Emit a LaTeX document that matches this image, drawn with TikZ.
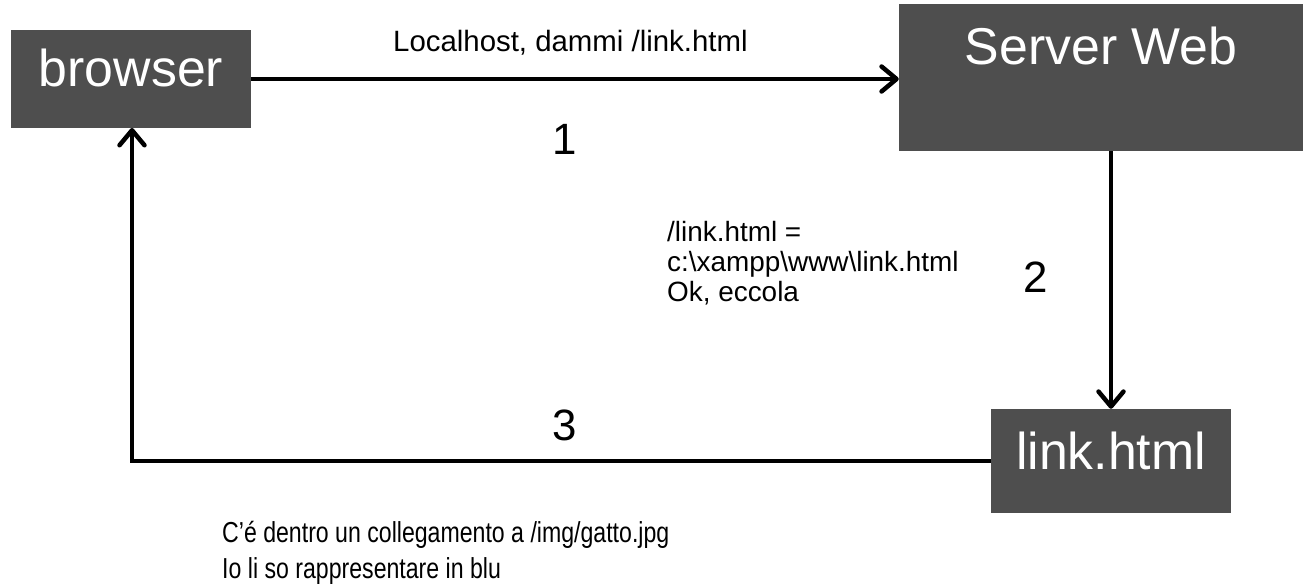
\documentclass[tikz,border=0pt]{standalone}
\usepackage{fontspec}
\setmainfont{Liberation Sans}
\newfontfamily\narrowfont[FakeStretch=0.8]{Liberation Sans}
\usetikzlibrary{arrows.meta}
\definecolor{boxgray}{RGB}{78,78,78}
\tikzset{
  boxnode/.style={fill=boxgray, draw=none, inner sep=0pt},
  boxtext/.style={text=white, inner sep=0pt, font=\fontsize{52}{60}\selectfont},
  lbl/.style={inner sep=0pt, font=\fontsize{28}{30}\selectfont, align=left},
  numlbl/.style={inner sep=0pt, font=\fontsize{44}{48}\selectfont},
  arr/.style={line width=4.5bp, -{Straight Barb[length=15bp, width=25bp, line cap=round, line join=round]}},
}
\begin{document}
\begin{tikzpicture}[x=1bp, y=-1bp]
\useasboundingbox (0,0) rectangle (1303,587);
% boxes
\node[boxnode, minimum width=240bp, minimum height=98bp] (br) at (131,79) {};
\node[boxtext] (brt) at (131,68) {browser};
\node[boxnode, minimum width=404bp, minimum height=147bp] (sw) at (1101,77.5) {};
\node[boxtext] (swt) at (1101,46) {Server Web};
\node[boxnode, minimum width=240bp, minimum height=104bp] (lk) at (1111,461) {};
\node[boxtext] (lkt) at (1111,451) {link.html};
% connectors
\draw[arr] (br.east) -- (sw.west |- br.east);
\draw[arr] (lk.north |- sw.south) -- (lk.north);
\coordinate (b3) at (132,128);
\draw[arr, line join=miter] (lk.west) -| (b3);
% labels
\node[lbl, anchor=base west, font=\fontsize{29.5}{32}\selectfont] (t1) at (393,52) {Localhost, dammi /link.html};
\node[numlbl, anchor=base] (n1) at (565,155) {1};
\node[lbl, anchor=north west] (t2) at (667,221) {/link.html =\\c:\textbackslash xampp\textbackslash www\textbackslash link.html\\Ok, eccola};
\node[numlbl, anchor=base] (n2) at (1036,292) {2};
\node[numlbl, anchor=base] (n3) at (565,440) {3};
\node[inner sep=0pt, anchor=base west, align=left, font=\narrowfont\fontsize{29}{36}\selectfont] (t4) at (222,578) {C’é dentro un collegamento a /img/gatto.jpg\\Io li so rappresentare in blu};
\end{tikzpicture}
\end{document}
